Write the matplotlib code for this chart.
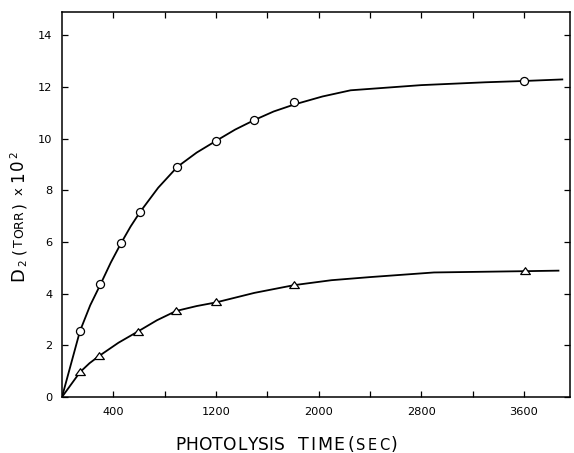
import matplotlib
matplotlib.use("Agg")
import matplotlib.pyplot as plt

FIG_W, FIG_H = 574, 453

# upper series (circles)
circle_t = [140, 300, 460, 610, 900, 1200, 1500, 1810, 3600]
circle_y = [2.55, 4.36, 5.95, 7.17, 8.91, 9.91, 10.72, 11.42, 12.22]
# hand-drawn curve through them
upper_curve_t = [0, 140, 220, 300, 380, 460, 535, 610, 750, 900, 1050, 1200,
                 1350, 1500, 1650, 1810, 2030, 2250, 2800, 3300, 3600, 3900]
upper_curve_y = [0, 2.55, 3.55, 4.36, 5.20, 5.95, 6.60, 7.17, 8.10, 8.91, 9.46, 9.91,
                 10.35, 10.72, 11.05, 11.32, 11.63, 11.87, 12.07, 12.18, 12.23, 12.29]

# lower series (triangles)
tri_t = [140, 290, 590, 890, 1200, 1810, 3610]
tri_y = [0.96, 1.59, 2.53, 3.33, 3.66, 4.33, 4.87]
lower_curve_t = [0, 140, 215, 290, 440, 590, 740, 890, 1050, 1200, 1500, 1810,
                 2100, 2400, 2900, 3610, 3870]
lower_curve_y = [0, 0.96, 1.31, 1.59, 2.10, 2.53, 2.97, 3.33, 3.52, 3.66, 4.03, 4.33,
                 4.52, 4.64, 4.82, 4.87, 4.89]

x_ticks = [400, 800, 1200, 1600, 2000, 2400, 2800, 3200, 3600]
x_labels = ["400", "", "1200", "", "2000", "", "2800", "", "3600"]
y_ticks = [0, 2, 4, 6, 8, 10, 12, 14]

plt.rcParams["font.family"] = "DejaVu Sans"

fig = plt.figure(figsize=(FIG_W / 100, FIG_H / 100), dpi=100)
ax = fig.add_axes([62 / FIG_W, 56 / FIG_H, (570 - 62) / FIG_W, (441 - 56) / FIG_H])

ax.plot(upper_curve_t, upper_curve_y, color="black", linewidth=1.3, zorder=2)
ax.plot(lower_curve_t, lower_curve_y, color="black", linewidth=1.3, zorder=2)
ax.plot(circle_t, circle_y, linestyle="None", marker="o", markersize=5.8,
        markerfacecolor="white", markeredgecolor="black", markeredgewidth=0.9, zorder=3)
tri_marker = [(-1, -0.62), (1, -0.62), (0, 0.78), (-1, -0.62)]
ax.plot(tri_t, tri_y, linestyle="None", marker=tri_marker, markersize=7,
        markerfacecolor="white", markeredgecolor="black", markeredgewidth=0.9, zorder=3)

ax.set_xlim(0, 3960)
ax.set_ylim(0, 14.9)
ax.set_xticks(x_ticks)
ax.set_xticklabels(x_labels)
ax.set_yticks(y_ticks)
ax.tick_params(direction="in", length=4, width=0.9, top=True, right=True,
               labelsize=8.2, colors="black")
ax.tick_params(axis="x", pad=7)
ax.tick_params(axis="y", pad=7)
for s in ax.spines.values():
    s.set_linewidth(1.1)

renderer = fig.canvas.get_renderer()


def draw_word(text, start, base, size, tracking=0, vertical=False):
    # letter by letter, `tracking` px of extra space between letters; returns end pos (px)
    pos = start
    for i, ch in enumerate(text):
        t = fig.text(0, 0, ch, fontsize=size, ha="left", va="baseline")
        w = t.get_window_extent(renderer).width
        if vertical:
            t.set_rotation(90)
            t.set_rotation_mode("anchor")
            t.set_position((base / FIG_W, pos / FIG_H))
        else:
            t.set_position((pos / FIG_W, base / FIG_H))
        pos += w + (tracking if i < len(text) - 1 else 0)
    return pos


# x label, built left to right from 175 px, baseline 3 px above the bottom
draw_word("PHOTOLYSIS", 175, 3, 12.3, tracking=0.3)
p = draw_word("TIME", 298, 3, 12.5, tracking=1.5)
p = draw_word("(", p + 3, 3, 12.5)
p = draw_word("SEC", p + 2, 3, 10.5, tracking=2)
draw_word(")", p + 2, 3, 12.5)

# y label, rotated, built upward from 172 px above the bottom; baseline at x = 23 px
p = draw_word("D", 172, 23, 13, vertical=True)
p = draw_word("2", p + 1, 26, 7.5, vertical=True)
p = draw_word("(", p + 5, 23, 11, vertical=True)
p = draw_word("TORR", p + 2, 23, 9, tracking=0.5, vertical=True)
p = draw_word(")", p + 2, 23, 11, vertical=True)
p = draw_word("x", p + 7, 23, 9.5, vertical=True)
p = draw_word("10", p + 5, 23, 12, tracking=2, vertical=True)
draw_word("2", p + 1, 17, 7.5, vertical=True)

fig.savefig("out.png", dpi=100)
